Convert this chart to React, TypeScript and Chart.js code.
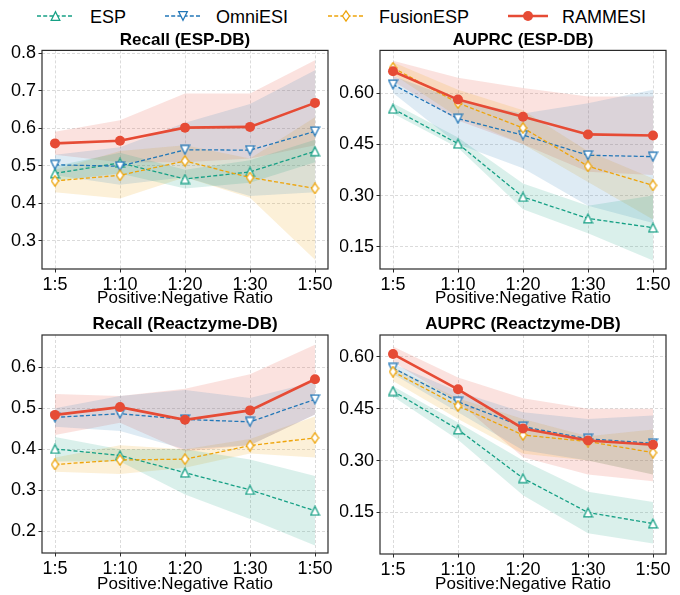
import React, { useEffect, useRef } from 'react';
import { Chart, registerables } from 'chart.js';
Chart.register(...registerables);

const FONT = '"Liberation Sans", Arial, sans-serif';

const categories = ['1:5', '1:10', '1:20', '1:30', '1:50'];
const seriesNames = ['ESP', 'OmniESI', 'FusionESP', 'RAMMESI'];
const seriesColors = ['#16A085', '#2277B8', '#EEA40A', '#E64B35'];
const bandColors = ['rgba(22,160,133,0.16)', 'rgba(34,119,184,0.15)', 'rgba(238,164,10,0.16)', 'rgba(230,75,53,0.16)'];
const xTitle = 'Positive:Negative Ratio';

// ---- Recall (ESP-DB)
const recallEspESP = [0.480, 0.508, 0.465, 0.484, 0.539];
const recallEspESPLo = [0.460, 0.480, 0.440, 0.455, 0.510];
const recallEspESPHi = [0.500, 0.535, 0.490, 0.515, 0.570];
const recallEspOmni = [0.503, 0.499, 0.543, 0.542, 0.592];
const recallEspOmniLo = [0.475, 0.450, 0.470, 0.420, 0.430];
const recallEspOmniHi = [0.530, 0.550, 0.615, 0.665, 0.755];
const recallEspFusion = [0.460, 0.475, 0.513, 0.469, 0.440];
const recallEspFusionLo = [0.430, 0.413, 0.470, 0.415, 0.250];
const recallEspFusionHi = [0.490, 0.540, 0.555, 0.520, 0.630];
const recallEspRam = [0.560, 0.567, 0.602, 0.604, 0.668];
const recallEspRamLo = [0.530, 0.510, 0.510, 0.520, 0.555];
const recallEspRamHi = [0.591, 0.622, 0.693, 0.693, 0.782];
const recallEspTicks = ['0.3', '0.4', '0.5', '0.6', '0.7', '0.8'];

// ---- AUPRC (ESP-DB)
const auprcEspESP = [0.554, 0.452, 0.296, 0.233, 0.206];
const auprcEspESPLo = [0.540, 0.440, 0.260, 0.190, 0.110];
const auprcEspESPHi = [0.570, 0.470, 0.335, 0.270, 0.300];
const auprcEspOmni = [0.625, 0.525, 0.477, 0.418, 0.414];
const auprcEspOmniLo = [0.600, 0.450, 0.380, 0.270, 0.220];
const auprcEspOmniHi = [0.650, 0.580, 0.540, 0.570, 0.610];
const auprcEspFusion = [0.674, 0.571, 0.498, 0.386, 0.330];
const auprcEspFusionLo = [0.655, 0.530, 0.450, 0.340, 0.230];
const auprcEspFusionHi = [0.690, 0.610, 0.550, 0.430, 0.350];
const auprcEspRam = [0.664, 0.581, 0.531, 0.479, 0.476];
const auprcEspRamLo = [0.635, 0.520, 0.450, 0.370, 0.360];
const auprcEspRamHi = [0.695, 0.645, 0.615, 0.590, 0.590];
const auprcEspTicks = ['0.15', '0.30', '0.45', '0.60'];

// ---- Recall (Reactzyme-DB)
const recallReaESP = [0.401, 0.385, 0.343, 0.301, 0.250];
const recallReaESPLo = [0.370, 0.370, 0.290, 0.230, 0.165];
const recallReaESPHi = [0.430, 0.400, 0.400, 0.375, 0.335];
const recallReaOmni = [0.478, 0.487, 0.473, 0.467, 0.522];
const recallReaOmniLo = [0.455, 0.445, 0.400, 0.410, 0.485];
const recallReaOmniHi = [0.500, 0.530, 0.545, 0.525, 0.565];
const recallReaFusion = [0.363, 0.374, 0.376, 0.409, 0.428];
const recallReaFusionLo = [0.345, 0.340, 0.355, 0.390, 0.380];
const recallReaFusionHi = [0.380, 0.410, 0.400, 0.425, 0.480];
const recallReaRam = [0.484, 0.503, 0.472, 0.495, 0.571];
const recallReaRamLo = [0.435, 0.465, 0.395, 0.410, 0.485];
const recallReaRamHi = [0.535, 0.530, 0.548, 0.583, 0.655];
const recallReaTicks = ['0.2', '0.3', '0.4', '0.5', '0.6'];

// ---- AUPRC (Reactzyme-DB)
const auprcReaESP = [0.501, 0.390, 0.249, 0.150, 0.118];
const auprcReaESPLo = [0.485, 0.360, 0.200, 0.090, 0.060];
const auprcReaESPHi = [0.515, 0.410, 0.300, 0.210, 0.180];
const auprcReaOmni = [0.568, 0.470, 0.398, 0.363, 0.350];
const auprcReaOmniLo = [0.550, 0.440, 0.330, 0.300, 0.260];
const auprcReaOmniHi = [0.580, 0.500, 0.440, 0.420, 0.430];
const auprcReaFusion = [0.557, 0.458, 0.374, 0.355, 0.323];
const auprcReaFusionLo = [0.530, 0.420, 0.320, 0.300, 0.260];
const auprcReaFusionHi = [0.570, 0.480, 0.420, 0.370, 0.390];
const auprcReaRam = [0.608, 0.506, 0.393, 0.358, 0.346];
const auprcReaRamLo = [0.585, 0.470, 0.310, 0.260, 0.240];
const auprcReaRamHi = [0.630, 0.540, 0.480, 0.450, 0.450];
const auprcReaTicks = ['0.15', '0.30', '0.45', '0.60'];

type PanelDef = {
  title: string;
  means: number[][];
  lows: number[][];
  highs: number[][];
  yTicks: string[];
  yMin: number;
  yMax: number;
  left: number;
  top: number;
  width: number;
  height: number;
  yWidth: number;
  padRight: number;
  padTop: number;
  xHeight: number;
  xTitlePad: number;
};

const panels: PanelDef[] = [
  {
    title: 'Recall (ESP-DB)',
    means: [recallEspESP, recallEspOmni, recallEspFusion, recallEspRam],
    lows: [recallEspESPLo, recallEspOmniLo, recallEspFusionLo, recallEspRamLo],
    highs: [recallEspESPHi, recallEspOmniHi, recallEspFusionHi, recallEspRamHi],
    yTicks: recallEspTicks, yMin: 0.225, yMax: 0.808,
    left: 0, top: 30, width: 340, height: 280, yWidth: 42, padRight: 12, padTop: 0, xHeight: 41, xTitlePad: 1.5,
  },
  {
    title: 'AUPRC (ESP-DB)',
    means: [auprcEspESP, auprcEspOmni, auprcEspFusion, auprcEspRam],
    lows: [auprcEspESPLo, auprcEspOmniLo, auprcEspFusionLo, auprcEspRamLo],
    highs: [auprcEspESPHi, auprcEspOmniHi, auprcEspFusionHi, auprcEspRamHi],
    yTicks: auprcEspTicks, yMin: 0.085, yMax: 0.725,
    left: 340, top: 30, width: 340, height: 280, yWidth: 40, padRight: 14, padTop: 0, xHeight: 41, xTitlePad: 1.5,
  },
  {
    title: 'Recall (Reactzyme-DB)',
    means: [recallReaESP, recallReaOmni, recallReaFusion, recallReaRam],
    lows: [recallReaESPLo, recallReaOmniLo, recallReaFusionLo, recallReaRamLo],
    highs: [recallReaESPHi, recallReaOmniHi, recallReaFusionHi, recallReaRamHi],
    yTicks: recallReaTicks, yMin: 0.147, yMax: 0.679,
    left: 0, top: 310, width: 340, height: 285, yWidth: 42, padRight: 12, padTop: 4.6, xHeight: 42, xTitlePad: 0,
  },
  {
    title: 'AUPRC (Reactzyme-DB)',
    means: [auprcReaESP, auprcReaOmni, auprcReaFusion, auprcReaRam],
    lows: [auprcReaESPLo, auprcReaOmniLo, auprcReaFusionLo, auprcReaRamLo],
    highs: [auprcReaESPHi, auprcReaOmniHi, auprcReaFusionHi, auprcReaRamHi],
    yTicks: auprcReaTicks, yMin: 0.03, yMax: 0.663,
    left: 340, top: 310, width: 340, height: 285, yWidth: 40, padRight: 14, padTop: 4.6, xHeight: 41, xTitlePad: 0,
  },
];

function makeMarker(kind: 'up' | 'down' | 'diamond', color: string): HTMLCanvasElement {
  const c = document.createElement('canvas');
  const w = kind === 'diamond' ? 9 : 11;
  const h = kind === 'diamond' ? 12 : 11;
  c.width = w;
  c.height = h;
  const ctx = c.getContext('2d')!;
  ctx.beginPath();
  if (kind === 'up') {
    ctx.moveTo(5.5, 1.2); ctx.lineTo(9.8, 9.8); ctx.lineTo(1.2, 9.8);
  } else if (kind === 'down') {
    ctx.moveTo(5.5, 9.8); ctx.lineTo(9.8, 1.2); ctx.lineTo(1.2, 1.2);
  } else {
    ctx.moveTo(4.5, 0.8); ctx.lineTo(8.0, 6); ctx.lineTo(4.5, 11.2); ctx.lineTo(1.0, 6);
  }
  ctx.closePath();
  ctx.fillStyle = '#fff';
  ctx.fill();
  ctx.strokeStyle = color;
  ctx.lineWidth = 1.3;
  ctx.stroke();
  return c;
}

const framePlugin = {
  id: 'frame',
  afterDatasetsDraw(chart: any) {
    const { ctx, chartArea } = chart;
    ctx.save();
    ctx.strokeStyle = '#2b2b2b';
    ctx.lineWidth = 1.2;
    ctx.strokeRect(chartArea.left, chartArea.top, chartArea.right - chartArea.left, chartArea.bottom - chartArea.top);
    ctx.restore();
  },
};

function PanelChart({ p }: { p: PanelDef }) {
  const ref = useRef<HTMLCanvasElement>(null);
  useEffect(() => {
    const markers: any[] = [
      makeMarker('up', seriesColors[0]),
      makeMarker('down', seriesColors[1]),
      makeMarker('diamond', seriesColors[2]),
      'circle',
    ];
    const datasets: any[] = [];
    for (let s = 0; s < 4; s++) {
      const lowIdx = datasets.length;
      datasets.push({
        data: p.lows[s].map((v, i) => ({ x: i, y: v })),
        borderColor: 'rgba(0,0,0,0)', borderWidth: 0, pointRadius: 0, pointHoverRadius: 0,
        fill: false, order: 10,
      });
      datasets.push({
        data: p.highs[s].map((v, i) => ({ x: i, y: v })),
        borderColor: 'rgba(0,0,0,0)', borderWidth: 0, pointRadius: 0, pointHoverRadius: 0,
        backgroundColor: bandColors[s], fill: lowIdx, order: 10,
      });
    }
    for (let s = 0; s < 4; s++) {
      const isRam = s === 3;
      datasets.push({
        label: seriesNames[s],
        data: p.means[s].map((v, i) => ({ x: i, y: v })),
        borderColor: seriesColors[s],
        borderWidth: isRam ? 2.6 : 1.3,
        borderDash: isRam ? [] : [4, 2.2],
        pointStyle: markers[s],
        pointRadius: 5,
        pointHoverRadius: 5,
        pointBackgroundColor: isRam ? seriesColors[s] : '#fff',
        pointBorderColor: seriesColors[s],
        pointBorderWidth: isRam ? 0 : 1.3,
        fill: false,
        tension: 0,
        order: 3 - s,
      });
    }
    const tickFont = { size: 18, family: FONT };
    const chart = new Chart(ref.current!, {
      type: 'line',
      data: { datasets },
      plugins: [framePlugin],
      options: {
        animation: false,
        responsive: false,
        devicePixelRatio: 1,
        events: [],
        layout: { padding: { left: 0, right: p.padRight, top: p.padTop, bottom: 0 } },
        plugins: {
          legend: { display: false },
          tooltip: { enabled: false },
          title: {
            display: true,
            text: p.title,
            fullSize: false,
            color: '#000',
            font: { size: 17, weight: 'bold', family: FONT },
            padding: { top: 0, bottom: 0 },
          },
        },
        scales: {
          x: {
            type: 'linear',
            min: -0.2,
            max: 4.2,
            afterBuildTicks: (scale: any) => {
              scale.ticks = categories.map((_, i) => ({ value: i }));
            },
            afterFit: (scale: any) => { scale.height = p.xHeight; },
            ticks: {
              callback: (v: any) => categories[Math.round(Number(v))],
              font: tickFont, color: '#000', padding: 1.5, maxRotation: 0, autoSkip: false,
            },
            grid: { color: '#d2d2d2', lineWidth: 0.8, tickLength: 3.5, tickColor: '#2b2b2b', tickWidth: 1 },
            border: { display: false, dash: [3, 2] },
            title: {
              display: true, text: xTitle, color: '#000',
              font: { size: 17, family: FONT }, padding: { top: 0, bottom: p.xTitlePad },
            },
          },
          y: {
            type: 'linear',
            min: p.yMin,
            max: p.yMax,
            afterBuildTicks: (scale: any) => {
              scale.ticks = p.yTicks.map((t) => ({ value: parseFloat(t) }));
            },
            afterFit: (scale: any) => { scale.width = p.yWidth; },
            ticks: {
              callback: (_v: any, i: number) => p.yTicks[i],
              font: tickFont, color: '#000', padding: 2.5, autoSkip: false,
            },
            grid: { color: '#d2d2d2', lineWidth: 0.8, tickLength: 3.5, tickColor: '#2b2b2b', tickWidth: 1 },
            border: { display: false, dash: [3, 2] },
          },
        },
      } as any,
    });
    return () => chart.destroy();
  }, [p]);
  return (
    <canvas
      ref={ref}
      width={p.width}
      height={p.height}
      style={{ position: 'absolute', left: p.left, top: p.top, width: p.width, height: p.height }}
    />
  );
}

const legendLayout = [
  { x1: 37, x2: 74, tx: 90 },
  { x1: 165, x2: 201, tx: 216 },
  { x1: 328, x2: 364, tx: 379 },
  { x1: 508, x2: 548, tx: 562 },
];

function LegendGlyph({ s }: { s: number }) {
  const L = legendLayout[s];
  const cx = (L.x1 + L.x2) / 2;
  const cy = 16;
  const col = seriesColors[s];
  let marker: React.ReactNode = null;
  if (s === 0) marker = <polygon points={`${cx},${cy - 4.3} ${cx + 4.3},${cy + 4.3} ${cx - 4.3},${cy + 4.3}`} fill="#fff" stroke={col} strokeWidth={1.3} />;
  if (s === 1) marker = <polygon points={`${cx},${cy + 4.3} ${cx + 4.3},${cy - 4.3} ${cx - 4.3},${cy - 4.3}`} fill="#fff" stroke={col} strokeWidth={1.3} />;
  if (s === 2) marker = <polygon points={`${cx},${cy - 5.2} ${cx + 3.5},${cy} ${cx},${cy + 5.2} ${cx - 3.5},${cy}`} fill="#fff" stroke={col} strokeWidth={1.3} />;
  if (s === 3) marker = <circle cx={cx} cy={cy} r={5} fill={col} />;
  return (
    <g>
      <line x1={L.x1} y1={cy} x2={L.x2} y2={cy} stroke={col} strokeWidth={s === 3 ? 2.6 : 1.3} strokeDasharray={s === 3 ? undefined : '4 2.2'} />
      {marker}
    </g>
  );
}

export default function App() {
  return (
    <div style={{ position: 'absolute', left: 0, top: 0, width: 680, height: 595, background: '#fff', overflow: 'hidden' }}>
      <svg width={680} height={30} style={{ position: 'absolute', left: 0, top: 0 }}>
        {seriesNames.map((_, s) => <LegendGlyph key={s} s={s} />)}
      </svg>
      {seriesNames.map((n, s) => (
        <span
          key={n}
          style={{
            position: 'absolute', left: legendLayout[s].tx, top: 6, fontFamily: FONT, fontSize: 18,
            lineHeight: '22px', color: '#000', whiteSpace: 'nowrap',
          }}
        >
          {n}
        </span>
      ))}
      {panels.map((p, i) => <PanelChart key={i} p={p} />)}
    </div>
  );
}
